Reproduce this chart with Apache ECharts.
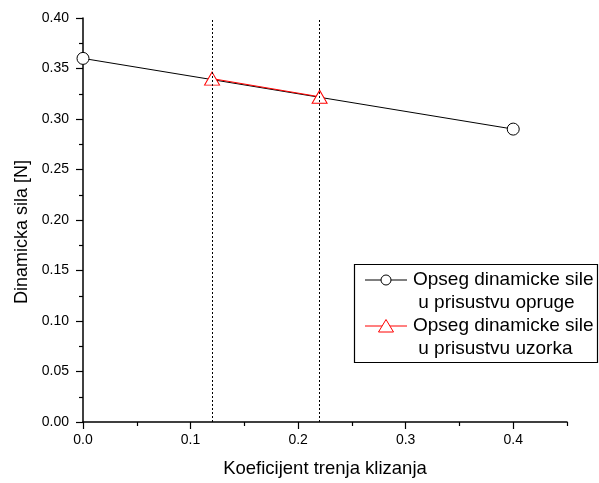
<!DOCTYPE html>
<html>
<head>
<meta charset="utf-8">
<script src="https://cdn.jsdelivr.net/npm/echarts@6/dist/echarts.min.js"></script>
<style>
html,body{margin:0;padding:0;background:#fff;}
#main{width:599px;height:483px;}
</style>
</head>
<body>
<div id="main"></div>
<script>
// podaci ocitani sa grafika
var springX = [0, 0.4];
var springY = [0.36, 0.29];
var sampleX = [0.12, 0.22];
var sampleY = [0.34, 0.322];
var guideX = [0.12, 0.22];
var xMajorTicks = [0, 0.1, 0.2, 0.3, 0.4];
var xMinorTicks = [0.05, 0.15, 0.25, 0.35, 0.45];
var legendNames = [
    ['Opseg dinamicke sile', ' u prisustvu opruge'],
    ['Opseg dinamicke sile', ' u prisustvu uzorka']
];

var font = 'Liberation Sans, Arial, sans-serif';

function pairs(xs, ys){
    var out = [];
    for(var i = 0; i < xs.length; i++){
        out.push([xs[i], ys[i]]);
    }
    return out;
}

var myChart = echarts.init(document.getElementById('main'));

//legenda
var legendGraphic = [{
    type: 'rect',
    shape: {x: 354.5, y: 264.5, width: 243, height: 98},
    style: {fill: '#fff', stroke: '#000', lineWidth: 1.2},
    z: 100
}];
var legendColors = ['#000', '#ff0000'];
for(var i = 0; i < legendNames.length; i++){
    var cy = 280 + i * 46;
    legendGraphic.push({
        type: 'line',
        shape: {x1: 365, y1: cy, x2: 407, y2: cy},
        style: {stroke: legendColors[i], lineWidth: 1},
        z: 101
    });
    if(i == 0){
        legendGraphic.push({
            type: 'circle',
            shape: {cx: 386, cy: cy, r: 5},
            style: {fill: '#fff', stroke: '#000', lineWidth: 1},
            z: 102
        });
    }else{
        legendGraphic.push({
            type: 'polygon',
            shape: {points: [[386, cy - 6.5], [393.5, cy + 6], [378.5, cy + 6]]},
            style: {fill: '#fff', stroke: '#ff0000', lineWidth: 1},
            z: 102
        });
    }
    for(var j = 0; j < 2; j++){
        legendGraphic.push({
            type: 'text',
            x: 413,
            y: cy + j * 23,
            style: {
                text: legendNames[i][j],
                font: '19px ' + font,
                fill: '#000',
                verticalAlign: 'middle',
                align: 'left'
            },
            z: 102
        });
    }
}

myChart.setOption({
    animation: false,
    grid: {left: 83, top: 18, right: 32, bottom: 60, containLabel: false},
    xAxis: [{
        type: 'value',
        min: 0,
        max: 0.45,
        interval: 0.05,
        name: 'Koeficijent trenja klizanja',
        nameLocation: 'middle',
        nameGap: 37,
        nameTextStyle: {fontFamily: font, fontSize: 18.5, color: '#000'},
        axisLine: {show: true, onZero: false, lineStyle: {color: '#000', width: 1.5}},
        axisTick: {show: true, length: 7, customValues: xMajorTicks, lineStyle: {color: '#000', width: 1.2}},
        axisLabel: {
            customValues: xMajorTicks,
            margin: 11,
            fontFamily: font,
            fontSize: 14,
            color: '#000',
            formatter: function(v){ return v.toFixed(1); }
        },
        splitLine: {show: false}
    },{
        type: 'value',
        position: 'bottom',
        min: 0,
        max: 0.45,
        interval: 0.05,
        axisLine: {show: false},
        axisTick: {show: true, length: 4, customValues: xMinorTicks, lineStyle: {color: '#000', width: 1.2}},
        axisLabel: {show: false},
        splitLine: {show: false}
    }],
    yAxis: {
        type: 'value',
        min: 0,
        max: 0.4,
        interval: 0.05,
        name: 'Dinamicka sila [N]',
        nameLocation: 'middle',
        nameGap: 52,
        nameTextStyle: {fontFamily: font, fontSize: 18, color: '#000', padding: [0, 24, 0, 0]},
        axisLine: {show: true, onZero: false, lineStyle: {color: '#000', width: 1.5}},
        axisTick: {show: true, length: 7, lineStyle: {color: '#000', width: 1.2}},
        minorTick: {show: true, splitNumber: 2, length: 4, lineStyle: {color: '#000', width: 1.2}},
        axisLabel: {
            margin: 14,
            fontFamily: font,
            fontSize: 14,
            color: '#000',
            formatter: function(v){ return v.toFixed(2); }
        },
        splitLine: {show: false}
    },
    series: [{
        name: legendNames[0].join(''),
        type: 'line',
        data: pairs(springX, springY),
        symbol: 'circle',
        symbolSize: 12,
        clip: false,
        lineStyle: {color: '#000', width: 1},
        itemStyle: {color: '#fff', borderColor: '#000', borderWidth: 1},
        markLine: {
            silent: true,
            symbol: 'none',
            label: {show: false},
            lineStyle: {color: '#000', width: 1, type: [2, 2]},
            data: guideX.map(function(x){ return {xAxis: x}; })
        },
        z: 3
    },{
        name: legendNames[1].join(''),
        type: 'line',
        data: pairs(sampleX, sampleY),
        symbol: 'triangle',
        symbolSize: [15, 13],
        lineStyle: {color: '#ff0000', width: 1},
        itemStyle: {color: '#fff', borderColor: '#ff0000', borderWidth: 1},
        z: 4
    }],
    graphic: legendGraphic
});
</script>
</body>
</html>
